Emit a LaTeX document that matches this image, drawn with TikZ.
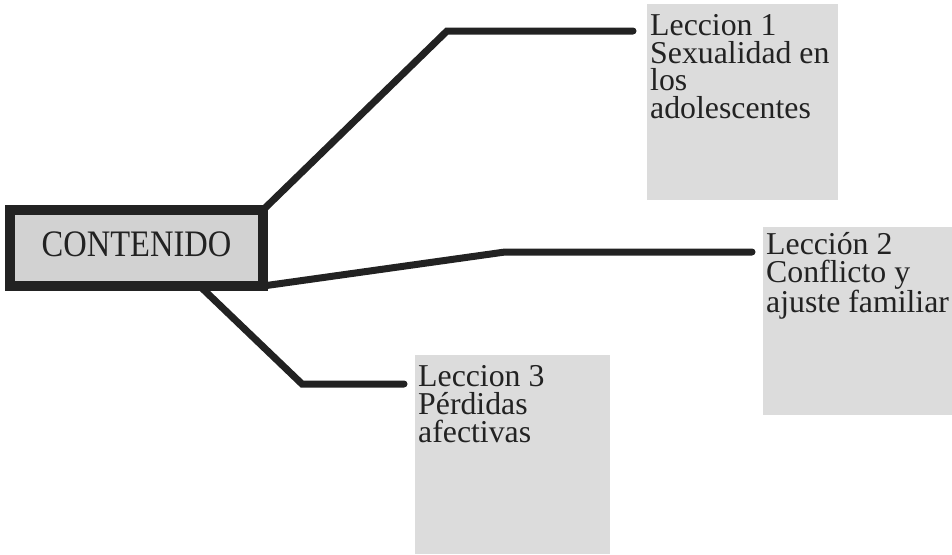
\documentclass[tikz,border=0pt]{standalone}
\usepackage{fontspec}
\usepackage{graphicx}
\setmainfont{Liberation Serif}
\usetikzlibrary{calc}
\definecolor{ink}{HTML}{222222}
\definecolor{dotfill}{HTML}{DCDCDC}
\definecolor{mainfill}{HTML}{D2D2D2}
\begin{document}
\begin{tikzpicture}[x=1pt,y=-1pt,
  lessonbox/.style={fill=dotfill, draw=none, inner sep=0pt, outer sep=0pt, anchor=north west},
  lessontext/.style={text=ink, anchor=base west, inner sep=0pt, align=left,
    font=\fontsize{31.8}{27.6}\selectfont},
  mainbox/.style={draw=ink, line width=10pt, fill=mainfill, outer sep=0pt, inner sep=0pt,
    minimum width=253pt, minimum height=76pt, text=ink, text depth=8pt,
    font=\fontsize{32.5}{34}\selectfont},
  link/.style={draw=ink, line width=7pt, line cap=round, line join=miter}
]
\useasboundingbox (0,0) rectangle (952,554);
\fill[white] (0,0) rectangle (952,554);

% lesson boxes
\node[lessonbox, minimum width=191pt, minimum height=196pt] (b1) at (647,4) {};
\node[lessonbox, minimum width=189pt, minimum height=188pt] (b2) at (763,227) {};
\node[lessonbox, minimum width=195pt, minimum height=199pt] (b3) at (415,355) {};

% lesson texts (anchored at the baseline of their last line)
\node[lessontext] (t1) at (650,118.5) {Leccion 1\\Sexualidad en\\los\\adolescentes};
\node[lessontext] (t2) at (766,312.5) {Lección 2\\Conflicto y\\ajuste familiar};
\node[lessontext] (t3) at (418,442) {Leccion 3\\Pérdidas\\afectivas};

% main box
\node[mainbox] (c) at (136.5,248) {\scalebox{1}[1.15]{CONTENIDO}};

% connector ends
\coordinate (e1) at (633,31);
\coordinate (e2) at (752,252);
\coordinate (e3) at (404,384);

\draw[link] (c.north east) -- (447,31) -- (e1);
\draw[link] (c.south east) -- (505,252) -- (e2);
\draw[link] ($(c.south west)!0.75!(c.south east)$) -- (302,384) -- (e3);
\end{tikzpicture}
\end{document}
